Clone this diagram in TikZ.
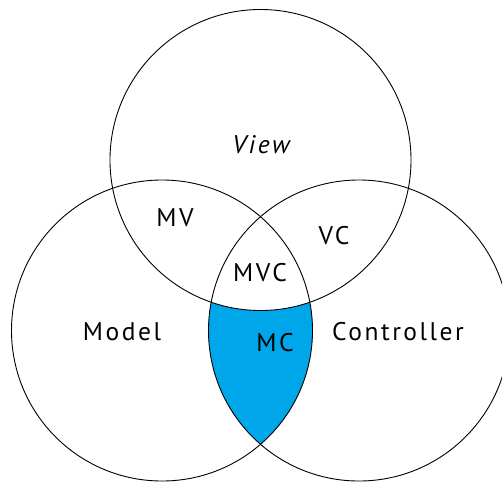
\documentclass[tikz,border=0pt]{standalone}
\usepackage{fontspec}
\setmainfont[LetterSpace=10]{PT Sans}
\definecolor{mcblue}{RGB}{0,166,234}
\begin{document}
\begin{tikzpicture}[x=1pt,y=-1pt,
  set/.style={draw=black,line width=0.9pt},
  lbl/.style={font=\fontsize{25.5}{28}\selectfont,inner sep=0pt}]
\useasboundingbox (0,0) rectangle (502,482);
\coordinate (V) at (260.5,160);
\coordinate (M) at (162,330.5);
\coordinate (C) at (359,330.5);
\def\rad{150.5}
% model-controller overlap outside the view circle
\begin{scope}
  \clip (M) circle (\rad);
  \clip (C) circle (\rad);
  \fill[mcblue] (0,0) rectangle (502,482);
  \fill[white] (V) circle (\rad);
\end{scope}
\draw[set] (V) circle (\rad);
\draw[set] (M) circle (\rad);
\draw[set] (C) circle (\rad);
\node[lbl] (view) at (261,145) {\itshape View};
\node[lbl] (model) at (122,332) {Model};
\node[lbl] (ctrl) at (398,332) {Controller};
\node[lbl] (mv) at (175,218) {MV};
\node[lbl] (vc) at (334,236) {VC};
\node[lbl] (mvc) at (260,273) {MVC};
\node[lbl] (mc) at (275,343) {MC};
\end{tikzpicture}
\end{document}
